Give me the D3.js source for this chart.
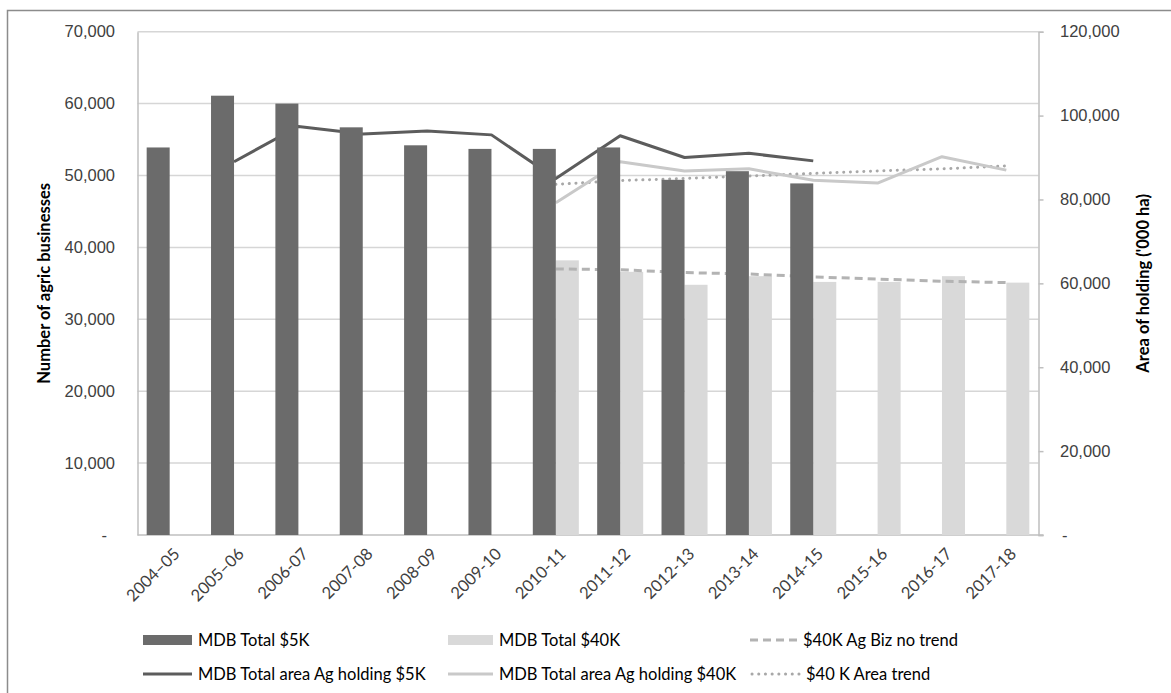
<!DOCTYPE html>
<html>
<head>
<meta charset="utf-8">
<script src="https://cdn.jsdelivr.net/npm/d3@7"></script>
<style>
  html, body { margin: 0; padding: 0; background: #fff; }
  svg { display: block; font-family: Lato, "Liberation Sans", Arial, sans-serif; }
</style>
</head>
<body>
<svg id="chart" width="1171" height="693"></svg>
<script>
// Financial years on the category axis
const categories = ["2004–05", "2005–06", "2006-07", "2007-08", "2008-09", "2009-10", "2010-11",
  "2011-12", "2012-13", "2013-14", "2014-15", "2015-16", "2016-17", "2017-18"];

// Number of agricultural businesses (left axis)
const total5k  = [53900, 61100, 60000, 56700, 54200, 53700, 53700, 53900, 49400, 50600, 48900, null, null, null];
const total40k = [null, null, null, null, null, null, 38200, 36600, 34800, 36000, 35200, 35200, 36000, 35100];
const bizTrend40k = [null, null, null, null, null, null, 37000, 36900, 36500, 36300, 35900, 35600, 35300, 35100];

// Area of holding, '000 ha (right axis)
const area5k  = [null, 89000, 97400, 95600, 96300, 95400, 85000, 95200, 90000, 91000, 89200, null, null, null];
const area40k = [null, null, null, null, null, null, 79200, 89000, 86800, 87300, 84600, 83900, 90200, 87000];
const areaTrend40k = [null, null, null, null, null, null, 83600, 84500, 85000, 85600, 86200, 86800, 87300, 88000];

// Axis ticks
const leftTicks  = [0, 10000, 20000, 30000, 40000, 50000, 60000, 70000];
const rightTicks = [0, 20000, 40000, 60000, 80000, 100000, 120000];

const svg = d3.select("#chart");
const W = 1171, H = 693;
const plot = { left: 137.5, right: 1038.5, top: 31.7, bottom: 535 };

const C = {
  dark: "#6b6b6b", light: "#d9d9d9",
  darkLine: "#5c5c5c", lightLine: "#c9c9c9",
  dash: "#b3b3b3", dot: "#a8a8a8",
  grid: "#d6d6d6", axis: "#bfbfbf", text: "#404040", border: "#8c8c8c"
};

// outer chart frame
svg.append("rect")
  .attr("x", 7.5).attr("y", 10.5).attr("width", W).attr("height", H)
  .attr("fill", "none").attr("stroke", C.border).attr("stroke-width", 1.5);

const x0 = d3.scaleBand().domain(categories)
  .range([plot.left, plot.right]).paddingInner(0.285).paddingOuter(0.1425);
const x1 = d3.scaleBand().domain(["s5", "s40"]).range([0, x0.bandwidth()]);
const yL = d3.scaleLinear().domain([0, 70000]).range([plot.bottom, plot.top]);
const yR = d3.scaleLinear().domain([0, 120000]).range([plot.bottom, plot.top]);
const cx = c => x0(c) + x0.bandwidth() / 2;

// horizontal gridlines
svg.append("g").selectAll("line").data(leftTicks.filter(t => t > 0)).join("line")
  .attr("x1", plot.left).attr("x2", plot.right)
  .attr("y1", d => yL(d)).attr("y2", d => yL(d))
  .attr("stroke", C.grid).attr("stroke-width", 1.5);

// left axis
const fmt = v => v === 0 ? "-" : d3.format(",")(v);
const gL = svg.append("g").attr("transform", `translate(${plot.left},0)`)
  .call(d3.axisLeft(yL).tickValues(leftTicks).tickSize(0).tickPadding(22.5).tickFormat(fmt));
gL.select(".domain").attr("stroke", C.axis).attr("stroke-width", 1.5);
gL.selectAll("text").attr("font-size", 16.5).attr("fill", C.text).attr("font-family", null);
gL.selectAll(".tick").filter(d => d === 0).select("text").attr("dx", -8);

// right axis
const gR = svg.append("g").attr("transform", `translate(${plot.right},0)`)
  .call(d3.axisRight(yR).tickValues(rightTicks).tickSize(5).tickPadding(16.5).tickFormat(fmt));
gR.select(".domain").attr("stroke", C.axis).attr("stroke-width", 1.5);
gR.selectAll("line").attr("stroke", C.axis).attr("stroke-width", 1.5);
gR.selectAll("text").attr("font-size", 16.5).attr("fill", C.text).attr("font-family", null);
gR.selectAll(".tick").filter(d => d === 0).select("text").attr("dx", 2);

// category baseline
svg.append("line")
  .attr("x1", plot.left).attr("x2", plot.right + 5)
  .attr("y1", plot.bottom).attr("y2", plot.bottom)
  .attr("stroke", C.axis).attr("stroke-width", 1.5);

// category labels
svg.append("g").selectAll("text").data(categories).join("text")
  .attr("transform", c => `translate(${cx(c) + 11},${plot.bottom + 20}) rotate(-45)`)
  .attr("text-anchor", "end").attr("font-size", 16.5).attr("fill", C.text)
  .text(c => c);

// axis titles
svg.append("text")
  .attr("transform", `translate(50,${(plot.top + plot.bottom) / 2}) rotate(-90)`)
  .attr("text-anchor", "middle").attr("font-weight", "bold").attr("font-size", 16.5)
  .attr("fill", "#000").text("Number of agric businesses");
svg.append("text")
  .attr("transform", `translate(1149,${(plot.top + plot.bottom) / 2}) rotate(-90)`)
  .attr("text-anchor", "middle").attr("font-weight", "bold").attr("font-size", 16.5)
  .attr("fill", "#000").text("Area of holding ('000 ha)");

const rows = categories.map((c, i) => ({
  c, t5: total5k[i], t40: total40k[i], b40: bizTrend40k[i],
  a5: area5k[i], a40: area40k[i], at40: areaTrend40k[i]
}));

// light bars
svg.append("g").selectAll("rect").data(rows.filter(d => d.t40 != null)).join("rect")
  .attr("x", d => x0(d.c) + x1("s40")).attr("width", x1.bandwidth())
  .attr("y", d => yL(d.t40)).attr("height", d => yL(0) - yL(d.t40))
  .attr("fill", C.light);

// lines
const mkLine = (key, y) => d3.line()
  .defined(d => d[key] != null)
  .x(d => cx(d.c)).y(d => y(d[key]));

const lines = [
  { key: "b40", y: yL, color: C.dash, width: 3, dash: "8,5", cap: "butt" },
  { key: "at40", y: yR, color: C.dot, width: 3, dash: "0.1,6.6", cap: "round" },
  { key: "a40", y: yR, color: C.lightLine, width: 3, dash: null, cap: "butt" },
  { key: "a5", y: yR, color: C.darkLine, width: 3, dash: null, cap: "butt" }
];
lines.forEach(l => {
  svg.append("path").datum(rows)
    .attr("d", mkLine(l.key, l.y))
    .attr("fill", "none").attr("stroke", l.color).attr("stroke-width", l.width)
    .attr("stroke-linejoin", "round").attr("stroke-linecap", l.cap)
    .attr("stroke-dasharray", l.dash);
});

// dark bars
svg.append("g").selectAll("rect").data(rows.filter(d => d.t5 != null)).join("rect")
  .attr("x", d => x0(d.c) + x1("s5")).attr("width", x1.bandwidth())
  .attr("y", d => yL(d.t5)).attr("height", d => yL(0) - yL(d.t5))
  .attr("fill", C.dark);

// legend
const legend = [
  { label: "MDB Total $5K", type: "bar", color: C.dark, col: 0, row: 0 },
  { label: "MDB Total $40K", type: "bar", color: C.light, col: 1, row: 0 },
  { label: "$40K Ag Biz no trend", type: "line", color: C.dash, dash: "8,5", cap: "butt", col: 2, row: 0 },
  { label: "MDB Total area Ag holding $5K", type: "line", color: C.darkLine, col: 0, row: 1 },
  { label: "MDB Total area Ag holding $40K", type: "line", color: C.lightLine, col: 1, row: 1 },
  { label: "$40 K Area trend", type: "line", color: C.dot, dash: "0.1,6.6", cap: "round", col: 2, row: 1 }
];
const colX = [143, 448, 750];
const swW = [49, 45, 50];
const rowY = [640, 674];
const lg = svg.append("g").selectAll("g").data(legend).join("g")
  .attr("transform", d => `translate(${colX[d.col]},${rowY[d.row]})`);
lg.filter(d => d.type === "bar").append("rect")
  .attr("x", 0).attr("y", -5).attr("width", d => swW[d.col]).attr("height", 10)
  .attr("fill", d => d.color);
lg.filter(d => d.type === "line").append("line")
  .attr("x1", d => d.cap === "round" ? 2 : 0).attr("x2", d => swW[d.col]).attr("y1", 0).attr("y2", 0)
  .attr("stroke", d => d.color).attr("stroke-width", 3)
  .attr("stroke-linecap", d => d.cap || "butt")
  .attr("stroke-dasharray", d => d.dash || null);
lg.append("text")
  .attr("x", d => swW[d.col] + (d.col === 2 && d.row === 0 ? 3 : 6))
  .attr("y", 0).attr("dy", "0.35em")
  .attr("font-size", 16.5).attr("fill", "#000")
  .text(d => d.label);
</script>
</body>
</html>
